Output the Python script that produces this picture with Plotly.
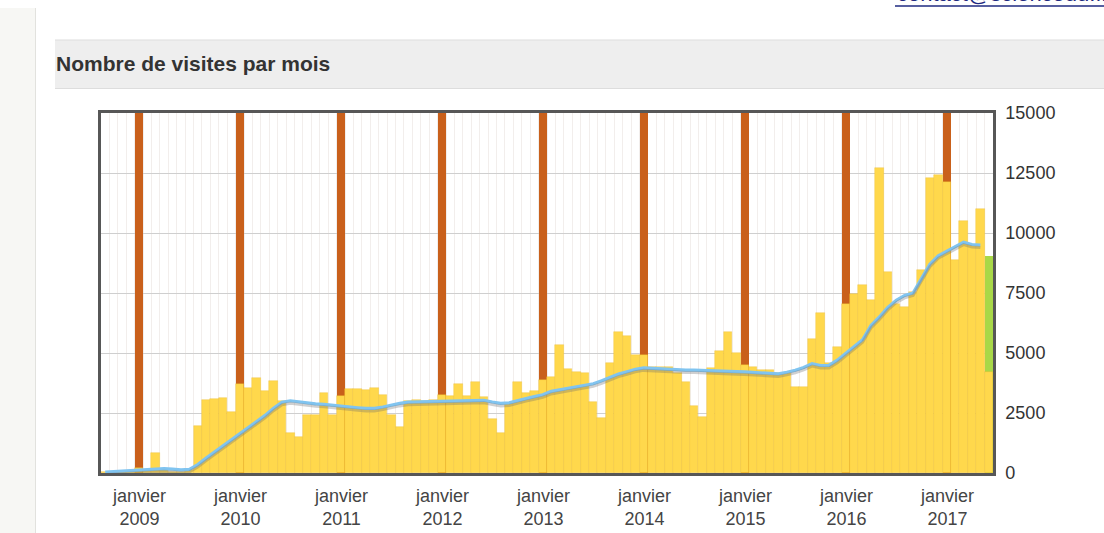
import plotly.graph_objects as go

# ---------------- data ----------------
months = [f"{y}-{m:02d}" for y in range(2008, 2018) for m in range(1, 13)]
months = months[months.index("2008-09"):months.index("2017-06") + 1]

visits = [
    30, 40, 60, 90,                                                     # 2008 Sep-Dec
    190, 130, 820, 170, 60, 50, 110, 1970, 3040, 3080, 3110, 2550,       # 2009
    3720, 3530, 3970, 3430, 3830, 2980, 1680, 1490, 2420, 2420, 3320, 2420,  # 2010
    3200, 3520, 3490, 3460, 3560, 3250, 2420, 1930, 3020, 3040, 3010, 3040,  # 2011
    3250, 3200, 3710, 3200, 3800, 3160, 2240, 1650, 2900, 3780, 3350, 3430,  # 2012
    3870, 4010, 5330, 4330, 4220, 4180, 2970, 2280, 4580, 5890, 5710, 4920,  # 2013
    4920, 4430, 4430, 4400, 4150, 3800, 2790, 2350, 4360, 5080, 5890, 4990,  # 2014
    4500, 4430, 4290, 4290, 4180, 4180, 3600, 3600, 5570, 6650, 4570, 5260,  # 2015
    7030, 7440, 7830, 7220, 12720, 8390, 7050, 6900, 7530, 8460, 12290, 12430,  # 2016
    12130, 8875, 10500, 9500, 11000, 4220,                               # 2017 Jan-Jun
]

moving_avg = [
    40, 60, 80, 100,
    130, 170, 190, 180, 160, 130, 150, 350, 620, 870, 1120, 1380,
    1650, 1900, 2150, 2400, 2700, 2950, 3010, 2960, 2910, 2880, 2860, 2820,
    2770, 2740, 2720, 2690, 2690, 2750, 2830, 2900, 2950, 2960, 2980, 3000,
    3010, 3010, 3010, 3020, 3020, 3030, 2960, 2900, 2920, 3020, 3100, 3180,
    3260, 3400, 3470, 3530, 3580, 3650, 3720, 3840, 3980, 4120, 4220, 4320,
    4380, 4360, 4320, 4300, 4290, 4290, 4290, 4270, 4250, 4230, 4230, 4220,
    4210, 4190, 4160, 4140, 4130, 4200, 4280, 4400, 4560, 4480, 4480, 4700,
    4980, 5280, 5550, 6150, 6500, 6900, 7200, 7400, 7500, 8100, 8700, 9050,
    9250, 9450, 9620, 9520, 9500,
]

projection_month = ["2017-06"]
projection_value = [9050]

y_max = 15000
y_ticks = [0, 2500, 5000, 7500, 10000, 12500, 15000]
y_tick_labels = [str(v) for v in y_ticks]
january_months = [m for m in months if m.endswith("-01")]
january_tops = [y_max] * len(january_months)
tick_labels = [f"janvier<br>{m[:4]}" for m in january_months]

# ---------------- layout helpers ----------------
W, H = 1104, 533
L, R, T, B = 101, 111, 113, 60
PW, PH = W - L - R, H - T - B


def px(x):
    return (x - L) / PW


def py(y):
    return (H - B - y) / PH


FONT = "Liberation Sans, Arial, sans-serif"

fig = go.Figure()

fig.add_trace(go.Bar(x=january_months, y=january_tops, marker=dict(color="#C9601B", line=dict(width=0)),
                     hoverinfo="skip", showlegend=False))
fig.add_trace(go.Bar(x=projection_month, y=projection_value, marker=dict(color="#A8D848", line=dict(width=0)),
                     showlegend=False))
fig.add_trace(go.Bar(x=months, y=visits,
                     marker=dict(color="#FFD84C", line=dict(width=0.6, color="rgba(235,185,40,0.55)")),
                     showlegend=False))
# shadow of the moving average line (same data, axis shifted a few px)
fig.add_trace(go.Scatter(x=months[:len(moving_avg)], y=moving_avg, mode="lines", yaxis="y2",
                         line=dict(color="rgba(110,110,110,0.32)", width=3), hoverinfo="skip", showlegend=False))
fig.add_trace(go.Scatter(x=months[:len(moving_avg)], y=moving_avg, mode="lines",
                         line=dict(color="#80C4F0", width=3.2), showlegend=False))

shift = 2.5 * y_max / PH

fig.update_layout(
    width=W, height=H,
    margin=dict(l=L, r=R, t=T, b=B),
    paper_bgcolor="white",
    plot_bgcolor="white",
    barmode="overlay",
    bargap=0,
    xaxis=dict(type="category", categoryorder="array", categoryarray=months,
               range=[-0.5, len(months) - 0.5],
               tickmode="linear", tick0=0, dtick=1, tickson="boundaries",
               showgrid=True, gridcolor="#F2EEEC", gridwidth=1,
               showticklabels=False, ticks="",
               showline=True, mirror=True, linecolor="#575757", linewidth=2.5,
               zeroline=False),
    yaxis=dict(side="right", range=[0, y_max], tickmode="array", tickvals=y_ticks, ticktext=y_tick_labels,
               showgrid=True, gridcolor="#CFCFCF", gridwidth=1.2,
               showline=True, mirror=True, linecolor="#575757", linewidth=2.5,
               ticks="outside", ticklen=6, tickcolor="rgba(0,0,0,0)",
               tickfont=dict(family=FONT, size=18, color="#333333"),
               zeroline=False),
    yaxis2=dict(overlaying="y", range=[shift, y_max + shift], visible=False),
)

shapes = [
    # left page strip
    dict(type="rect", xref="paper", yref="paper", x0=px(0), x1=px(35), y0=py(H), y1=py(8),
         fillcolor="#F7F7F4", line=dict(width=0), layer="below"),
    dict(type="line", xref="paper", yref="paper", x0=px(35.5), x1=px(35.5), y0=py(H), y1=py(8),
         line=dict(color="#E2E2DE", width=1), layer="below"),
    # header band
    dict(type="rect", xref="paper", yref="paper", x0=px(55), x1=px(W + 5), y0=py(88), y1=py(40),
         fillcolor="#EEEEEE", line=dict(width=0), layer="below"),
    dict(type="line", xref="paper", yref="paper", x0=px(55), x1=px(W + 5), y0=py(40), y1=py(40),
         line=dict(color="#DDDDDD", width=1)),
    dict(type="line", xref="paper", yref="paper", x0=px(55), x1=px(W + 5), y0=py(88.5), y1=py(88.5),
         line=dict(color="#DDDDDD", width=1)),
    # underline of the cut link
    dict(type="line", xref="paper", yref="paper", x0=px(895), x1=px(W + 5), y0=py(6), y1=py(6),
         line=dict(color="#1F2A80", width=1.5)),
]

annotations = [
    dict(text="<b>Nombre de visites par mois</b>", xref="paper", yref="paper", x=px(54), y=py(63),
         xanchor="left", yanchor="middle", showarrow=False,
         font=dict(family=FONT, size=21, color="#333333")),
    dict(text="contact@sciencedu.fr", xref="paper", yref="paper", x=px(895), y=py(-7),
         xanchor="left", yanchor="middle", showarrow=False,
         font=dict(family=FONT, size=22, color="#1F2A80")),
]
for m, lab in zip(january_months, tick_labels):
    annotations.append(dict(text=lab, x=m, xref="x", yref="paper", y=py(484), yanchor="top",
                            showarrow=False, align="center",
                            font=dict(family=FONT, size=18, color="#444444")))

fig.update_layout(shapes=shapes, annotations=annotations)

fig.write_html("out.html", config={"displayModeBar": False},
               post_script="document.body.style.margin='0';")
